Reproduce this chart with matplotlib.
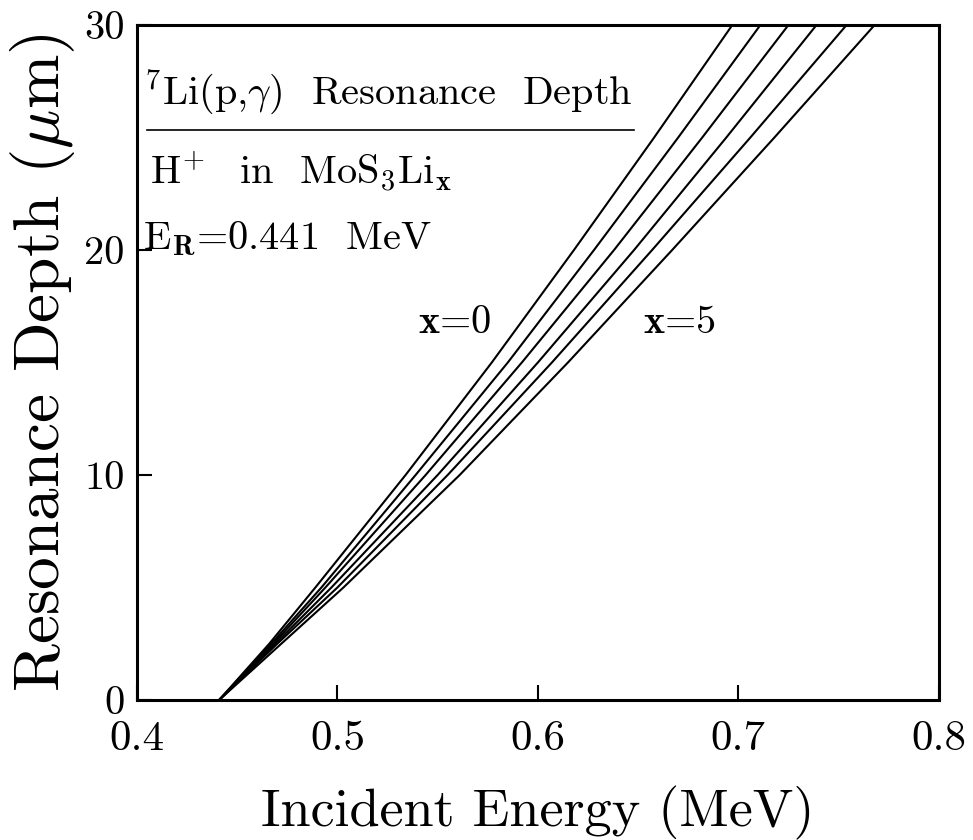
import numpy as np, matplotlib
matplotlib.use('Agg'); import matplotlib.pyplot as plt

plt.rcParams['mathtext.fontset'] = 'cm'
plt.rcParams['font.family'] = ['cmr10', 'DejaVu Serif']
plt.rcParams['axes.formatter.use_mathtext'] = True

# resonance depth (um) vs incident energy (MeV) for x = 0..5 in MoS3Li_x
depth = [0, 2.5, 5, 10, 15, 20, 25, 30]
E_x0 = [0.441, 0.466, 0.489, 0.534, 0.577, 0.618, 0.658, 0.697]
E_x1 = [0.441, 0.467, 0.492, 0.539, 0.585, 0.628, 0.670, 0.711]
E_x2 = [0.441, 0.468, 0.494, 0.544, 0.592, 0.638, 0.682, 0.725]
E_x3 = [0.441, 0.469, 0.497, 0.550, 0.600, 0.648, 0.694, 0.739]
E_x4 = [0.441, 0.470, 0.500, 0.555, 0.607, 0.657, 0.706, 0.754]
E_x5 = [0.441, 0.472, 0.503, 0.561, 0.615, 0.667, 0.718, 0.768]
curves = [E_x0, E_x1, E_x2, E_x3, E_x4, E_x5]
xticks = [0.4, 0.5, 0.6, 0.7, 0.8]
yticks = [0, 10, 20, 30]

fig = plt.figure(figsize=(9.73, 8.4), dpi=100)
ax = fig.add_axes([0.1408, 0.1667, 0.824, 0.8035])
for E in curves:
    ax.plot(E, depth, color='k', lw=1.5)

ax.set_xlim(0.4, 0.8); ax.set_ylim(0, 30)
ax.set_xticks(xticks); ax.set_yticks(yticks)
ax.set_xticklabels(['0.4', '0.5', '0.6', '0.7', '0.8'])
ax.set_yticklabels(['0', '10', '20', '30'])
ax.tick_params(axis='both', direction='in', length=11, width=1.5)
ax.tick_params(axis='x', labelsize=31, pad=15)
ax.tick_params(axis='y', labelsize=29, pad=9)
for s in ax.spines.values():
    s.set_linewidth(2.2)

ax.set_xlabel('Incident Energy (MeV)', fontsize=39)
ax.set_ylabel(r'Resonance Depth ($\mu$m)', fontsize=47)
ax.xaxis.set_label_coords(0.5, -0.127)
ax.yaxis.set_label_coords(-0.075, 0.5)

# inset legend text
ax.text(0.4035, 26.5, r'$^7$Li(p,$\gamma$)  Resonance  Depth', fontsize=29, va='baseline')
ax.plot([0.405, 0.648], [25.35, 25.35], color='k', lw=1.2)
ax.text(0.4065, 22.9, r'H$^{\!+}$  in  MoS$_3$Li$_\mathbf{x}$', fontsize=29, va='baseline')
ax.text(0.4030, 20.05, r'E$_\mathbf{R}$=0.441  MeV', fontsize=29, va='baseline')
ax.text(0.540, 16.3, r'$\mathbf{x}$=0', fontsize=29, va='baseline')
ax.text(0.6525, 16.3, r'$\mathbf{x}$=5', fontsize=29, va='baseline')

plt.savefig('out.png', dpi=100)
